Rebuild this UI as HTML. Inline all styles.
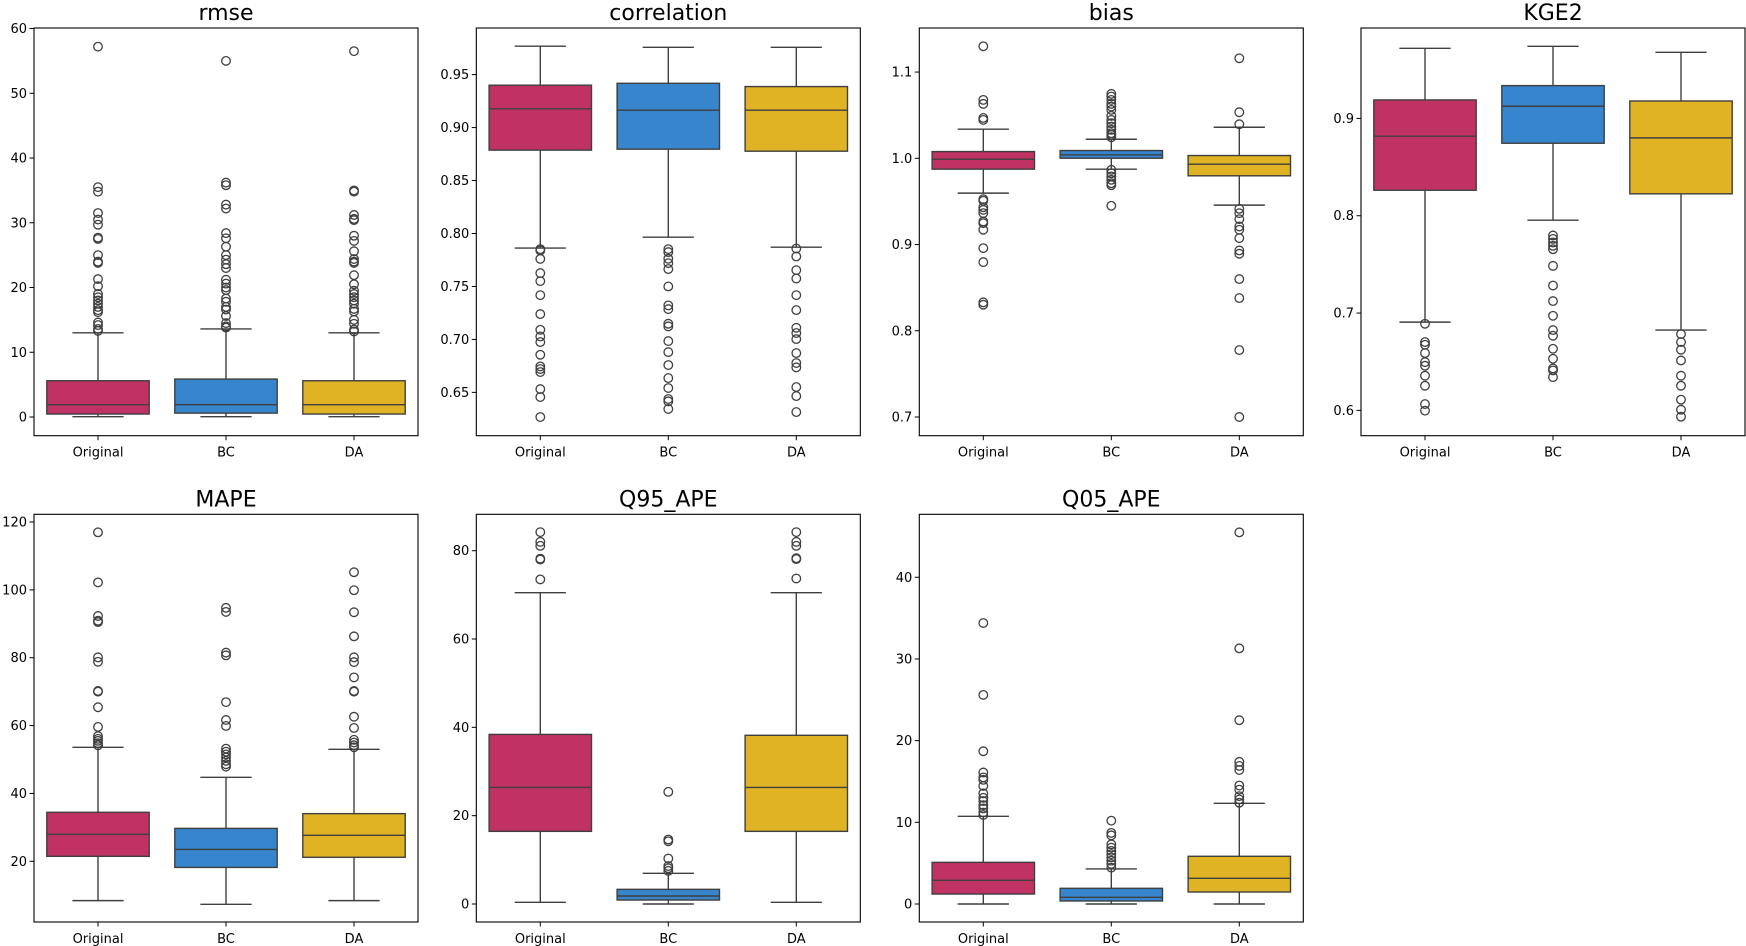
<!DOCTYPE html>
<html><head><meta charset="utf-8"><style>
html,body{margin:0;padding:0;background:#fff;}
svg{display:block;font-family:"DejaVu Sans","Liberation Sans",sans-serif;}
</style></head><body>
<svg id="fig" width="1746" height="946" viewBox="0 0 1746 946" xmlns="http://www.w3.org/2000/svg"></svg>
<script>
const categories = ["Original","BC","DA"];
const colors = ["#c03263","#3785cc","#e0b325"];
const panelTitles = ["rmse","correlation","bias","KGE2","MAPE","Q95_APE","Q05_APE"];

// [whiskerLow, q1, median, q3, whiskerHigh]
const rmseBoxes = [[0.05,0.46,1.9,5.6,13.0],[0.05,0.6,1.9,5.86,13.6],[0.05,0.46,1.9,5.6,13.0]];
const rmseOutliers = [
 [57.2,35.5,34.8,31.5,30.5,29.7,27.7,27.5,25,24,23.8,21.3,20.2,19,18.5,18,17.5,17,16.5,16.2,14.6,14.2,13.6,13.3],
 [55,36.2,35.8,32.8,32.2,28.4,27.6,26.3,25,24.3,23.6,23,21.2,20.6,20,19.6,18.3,17.8,17,16.6,15.6,14.5,14,13.8],
 [56.5,35,34.8,31.2,30.6,30.4,28,27.2,25.6,24.4,24,23.8,21.9,20.5,19.5,19,18.5,18,17.5,16.7,16.3,15,14.4,13.5,13.2]];
const rmseTicks = ["0","10","20","30","40","50","60"];

const corrBoxes = [[0.7862,0.8787,0.9177,0.940,0.9768],[0.7965,0.8796,0.9164,0.9418,0.9758],[0.7871,0.8777,0.9164,0.9387,0.9758]];
const corrOutliers = [
 [0.7852,0.784,0.776,0.7626,0.755,0.7418,0.7239,0.7091,0.7028,0.6975,0.6855,0.6745,0.672,0.6692,0.6531,0.6456,0.6267],
 [0.7852,0.7824,0.7761,0.772,0.7664,0.75,0.7321,0.7286,0.7148,0.7123,0.6984,0.688,0.6758,0.6635,0.6541,0.6437,0.6415,0.6343],
 [0.7858,0.7783,0.7654,0.7575,0.7418,0.7277,0.711,0.706,0.7003,0.6871,0.6777,0.6736,0.655,0.6465,0.6314]];
const corrTicks = ["0.65","0.70","0.75","0.80","0.85","0.90","0.95"];

const biasBoxes = [[0.9596,0.9874,0.999,1.0078,1.0337],[0.9874,1.0001,1.004,1.009,1.0221],[0.9457,0.9797,0.9932,1.0032,1.036]];
const biasOutliers = [
 [1.1299,1.0677,1.0631,1.0468,1.0445,0.9526,0.9507,0.9433,0.9402,0.9364,0.9267,0.9248,0.9171,0.8958,0.8796,0.8329,0.8302],
 [1.0747,1.0716,1.0677,1.0631,1.06,1.0561,1.0492,1.0445,1.0407,1.0368,1.033,1.0291,1.0272,1.0244,0.9866,0.9827,0.9789,0.975,0.9711,0.9688,0.9449],
 [1.116,1.0534,1.0395,0.9414,0.9364,0.9294,0.9209,0.9171,0.9074,0.8931,0.8893,0.8599,0.8379,0.7776,0.7]];
const biasTicks = ["0.7","0.8","0.9","1.0","1.1"];

const kgeBoxes = [[0.6907,0.8262,0.8817,0.919,0.972],[0.7954,0.8745,0.9125,0.9337,0.9741],[0.6825,0.8225,0.88,0.9179,0.9679]];
const kgeOutliers = [
 [0.689,0.6702,0.6674,0.6589,0.6496,0.6459,0.6356,0.6253,0.6065,0.5997],
 [0.7797,0.7762,0.7725,0.7691,0.7656,0.7485,0.7283,0.7123,0.6972,0.6825,0.6767,0.6633,0.653,0.6431,0.6411,0.6342],
 [0.6784,0.6702,0.6623,0.6513,0.6356,0.6253,0.611,0.6007,0.5935]];
const kgeTicks = ["0.6","0.7","0.8","0.9"];

const mapeBoxes = [[8.41,21.47,27.96,34.44,53.6],[7.33,18.2,23.5,29.7,44.75],[8.41,21.18,27.66,34.05,53.0]];
const mapeOutliers = [
 [116.96,102.2,92.3,90.9,90.5,80.1,78.8,70.2,70.0,65.4,59.6,56.9,56.1,55.5,54.8,54.2],
 [94.7,93.5,81.5,80.7,66.9,61.65,59.9,53.2,52.3,51.5,50.6,49.6,48.6,47.9],
 [105.2,99.9,93.4,86.3,80.1,78.7,74.2,70.2,70.0,62.6,59.3,55.8,55.0,54.2,53.6]];
const mapeTicks = ["20","40","60","80","100","120"];

const q95Boxes = [[0.38,16.45,26.4,38.4,70.5],[0,0.9,1.81,3.32,6.94],[0.38,16.45,26.4,38.2,70.5]];
const q95Outliers = [
 [84.2,82.0,81.1,78.2,78.0,73.5],
 [25.4,14.6,14.2,10.3,8.6,8.1,7.5],
 [84.2,82.0,81.1,78.3,78.1,73.7]];
const q95Ticks = ["0","20","40","60","80"];

const q05Boxes = [[0,1.22,2.9,5.1,10.73],[0,0.37,0.82,1.92,4.29],[0,1.47,3.14,5.84,12.33]];
const q05Outliers = [
 [34.4,25.6,18.7,16.1,15.5,15.2,14.45,13.55,13.0,12.6,12.1,11.7,11.2,10.9],
 [10.2,8.7,8.4,7.3,6.9,6.5,6.1,5.7,5.3,4.9,4.45],
 [45.5,31.3,22.5,17.4,16.9,16.4,14.5,14.0,13.2,12.8,12.4]];
const q05Ticks = ["0","10","20","30","40"];

const NS = "http://www.w3.org/2000/svg";
const svg = document.getElementById("fig");
function mk(tag, attrs, parent){
  const e = document.createElementNS(NS, tag);
  for (const k in attrs) e.setAttribute(k, attrs[k]);
  (parent||svg).appendChild(e);
  return e;
}
const AW = 384, AH = 407.7;
const panels = [
  {left:34, top:28, dom:[-2.886,60.08], boxes:rmseBoxes, outl:rmseOutliers, ticks:rmseTicks, id:"rmse"},
  {left:476.3, top:28, dom:[0.6091,0.994], boxes:corrBoxes, outl:corrOutliers, ticks:corrTicks, id:"correlation"},
  {left:919.3, top:28, dom:[0.6783,1.1511], boxes:biasBoxes, outl:biasOutliers, ticks:biasTicks, id:"bias"},
  {left:1361, top:28, dom:[0.574,0.9929], boxes:kgeBoxes, outl:kgeOutliers, ticks:kgeTicks, id:"kge2"},
  {left:34, top:514.3, dom:[2.11,122.27], boxes:mapeBoxes, outl:mapeOutliers, ticks:mapeTicks, id:"mape"},
  {left:476.3, top:514.3, dom:[-4.075,88.24], boxes:q95Boxes, outl:q95Outliers, ticks:q95Ticks, id:"q95-ape"},
  {left:919.3, top:514.3, dom:[-2.204,47.71], boxes:q05Boxes, outl:q05Outliers, ticks:q05Ticks, id:"q05-ape"}
];
const EDGE = "#3f3f3f";
panels.forEach((p, pi) => {
  const g = mk("g", {});
  
  
  const y = v => p.top + AH - (v - p.dom[0]) / (p.dom[1] - p.dom[0]) * AH;
  const x = i => p.left + (i + 0.5) * AW / 3;
  const t = mk("text", {x:p.left + AW/2, y:p.top - 8, "text-anchor":"middle", "font-size":"22", fill:"#000"}, g);
  t.textContent = panelTitles[pi];
  
  
  // y ticks
  p.ticks.forEach(lbl => {
    const v = parseFloat(lbl), yy = y(v);
    mk("line", {x1:p.left-4.5, x2:p.left, y1:yy, y2:yy, stroke:"#000", "stroke-width":1}, g);
    const tl = mk("text", {x:p.left-7, y:yy+4.5, "text-anchor":"end", "font-size":"13", fill:"#000"}, g);
    tl.textContent = lbl;
    
    
  });
  categories.forEach((c, i) => {
    const cx = x(i);
    mk("line", {x1:cx, x2:cx, y1:p.top+AH, y2:p.top+AH+4.5, stroke:"#000", "stroke-width":1}, g);
    const xl = mk("text", {x:cx, y:p.top+AH+21, "text-anchor":"middle", "font-size":"13", fill:"#000"}, g);
    xl.textContent = c;
    
    
    const b = p.boxes[i];
    const bw = AW/3*0.8, cw = bw/2;
    const bg = mk("g", {}, g);
    
    
    mk("line", {x1:cx, x2:cx, y1:y(b[0]), y2:y(b[1]), stroke:EDGE, "stroke-width":1.4}, bg);
    mk("line", {x1:cx, x2:cx, y1:y(b[3]), y2:y(b[4]), stroke:EDGE, "stroke-width":1.4}, bg);
    mk("line", {x1:cx-cw/2, x2:cx+cw/2, y1:y(b[0]), y2:y(b[0]), stroke:EDGE, "stroke-width":1.4}, bg);
    mk("line", {x1:cx-cw/2, x2:cx+cw/2, y1:y(b[4]), y2:y(b[4]), stroke:EDGE, "stroke-width":1.4}, bg);
    mk("rect", {x:cx-bw/2, y:y(b[3]), width:bw, height:Math.max(1, y(b[1])-y(b[3])), fill:colors[i], stroke:EDGE, "stroke-width":1.4}, bg);
    mk("line", {x1:cx-bw/2, x2:cx+bw/2, y1:y(b[2]), y2:y(b[2]), stroke:EDGE, "stroke-width":1.4}, bg);
    p.outl[i].forEach(v => {
      const o = mk("circle", {cx:cx, cy:y(v), r:4.3, fill:"none", stroke:EDGE, "stroke-width":1.3}, bg);
      
      
    });
  });
  const fr = mk("rect", {x:p.left, y:p.top, width:AW, height:AH, fill:"none", stroke:"#000", "stroke-width":1.1}, g);
  
  
});
</script>
</body></html>
